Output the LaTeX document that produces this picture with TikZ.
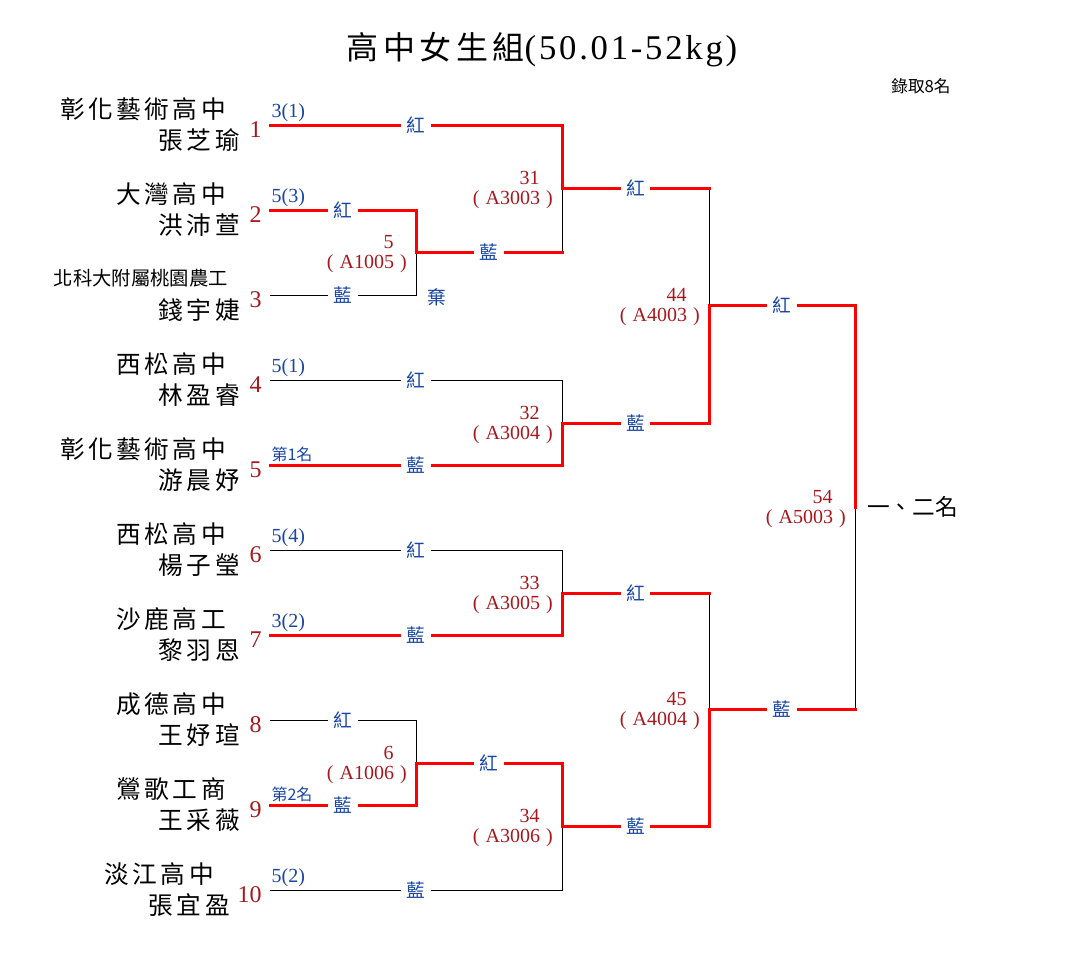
\documentclass[tikz,border=0pt]{standalone}
\usepackage{fontspec}
\setmainfont{Liberation Serif}
\newfontfamily\cjk{Noto Sans CJK TC}
\newfontfamily\cjkwide{Noto Sans CJK TC}[LetterSpace=14]
\newfontfamily\titlenum{Liberation Serif}[LetterSpace=8]
\definecolor{winred}{RGB}{255,0,0}
\definecolor{numred}{RGB}{165,25,30}
\definecolor{tagblue}{RGB}{25,70,165}
\newcommand{\paren}[1]{(\hspace{0.3em}#1\hspace{0.3em})}
\newcommand{\boutlabel}[2]{#1\hspace*{0.65em}\\\paren{#2}}
\tikzset{
  win/.style={draw=winred, line width=2.25pt, line cap=rect},
  lose/.style={draw=black, line width=0.75pt},
  corner/.style={fill=white, text=tagblue, inner xsep=4pt, inner ysep=0pt,
    font=\cjk\fontsize{14}{14}\selectfont},
  seed/.style={anchor=south west, inner sep=0pt, xshift=1pt, yshift=2pt,
    text=tagblue, font=\fontsize{15}{15}\selectfont},
  entry/.style={anchor=base east, inner sep=0pt, xshift=-6pt, yshift=-9.5pt,
    text=numred, font=\fontsize{18}{18}\selectfont},
  school/.style={anchor=east, inner sep=0pt, font=\cjkwide\fontsize{18.5}{18.5}\selectfont},
  player/.style={anchor=east, inner sep=0pt, font=\cjkwide\fontsize{18.5}{18.5}\selectfont},
  bout/.style={anchor=east, align=right, inner sep=0pt, xshift=-6.75pt, yshift=-1.5pt,
    text=numred, font=\fontsize{15}{15}\selectfont}
}
\begin{document}
\begin{tikzpicture}[x=0.75pt, y=-0.75pt]
  \useasboundingbox (0,0) rectangle (1085,975);
  \node (title) at (542,50) {{\cjkwide\fontsize{24}{24}\selectfont 高中女生組}{\titlenum\fontsize{26}{26}\selectfont(50.01-52kg)}};
  \node[font=\cjk\fontsize{12.5}{12.5}\selectfont] (quota) at (921,86) {錄取8名};

  % entry points
  \coordinate (e1) at (270,125);
  \coordinate (e2) at (270,210);
  \coordinate (e3) at (270,295);
  \coordinate (e4) at (270,380);
  \coordinate (e5) at (270,465);
  \coordinate (e6) at (270,550);
  \coordinate (e7) at (270,635);
  \coordinate (e8) at (270,720);
  \coordinate (e9) at (270,805);
  \coordinate (e10) at (270,890);
  % bracket joints
  \coordinate (a5) at (416,252);
  \coordinate (a6) at (416,763);
  \coordinate (b31) at (562,188);
  \coordinate (b32) at (562,423);
  \coordinate (b33) at (562,593);
  \coordinate (b34) at (562,826);
  \coordinate (c44) at (709,305);
  \coordinate (c45) at (709,709);
  \coordinate (d54) at (855,507);

  % schools and players
  \node[school] (s1) at (226,109) {彰化藝術高中};
  \node[player] (p1) at (240,140) {張芝瑜};
  \node[school] (s2) at (226,194) {大灣高中};
  \node[player] (p2) at (240,225) {洪沛萱};
  \node[school, font=\cjk\fontsize{14.5}{14.5}\selectfont] (s3) at (228,278) {北科大附屬桃園農工};
  \node[player] (p3) at (240,310) {錢宇婕};
  \node[school] (s4) at (226,364) {西松高中};
  \node[player] (p4) at (240,395) {林盈睿};
  \node[school] (s5) at (226,449) {彰化藝術高中};
  \node[player] (p5) at (240,480) {游晨妤};
  \node[school] (s6) at (226,534) {西松高中};
  \node[player] (p6) at (240,565) {楊子瑩};
  \node[school] (s7) at (226,619) {沙鹿高工};
  \node[player] (p7) at (240,650) {黎羽恩};
  \node[school] (s8) at (226,704) {成德高中};
  \node[player] (p8) at (240,735) {王妤瑄};
  \node[school] (s9) at (226,789) {鶯歌工商};
  \node[player] (p9) at (240,820) {王采薇};
  \node[school] (s10) at (214,874) {淡江高中};
  \node[player] (p10) at (230,905) {張宜盈};

  % draw numbers and seeds
  \node[entry] (n1) at (e1) {1};
  \node[entry] (n2) at (e2) {2};
  \node[entry] (n3) at (e3) {3};
  \node[entry] (n4) at (e4) {4};
  \node[entry] (n5) at (e5) {5};
  \node[entry] (n6) at (e6) {6};
  \node[entry] (n7) at (e7) {7};
  \node[entry] (n8) at (e8) {8};
  \node[entry] (n9) at (e9) {9};
  \node[entry] (n10) at (e10) {10};
  \node[seed] (r1) at (e1) {3(1)};
  \node[seed] (r2) at (e2) {5(3)};
  \node[seed] (r4) at (e4) {5(1)};
  \node[seed, font=\cjk\fontsize{12}{12}\selectfont] (r5) at (e5) {第1名};
  \node[seed] (r6) at (e6) {5(4)};
  \node[seed] (r7) at (e7) {3(2)};
  \node[seed, font=\cjk\fontsize{12}{12}\selectfont] (r9) at (e9) {第2名};
  \node[seed] (r10) at (e10) {5(2)};

  % losing lines
  \draw[lose] (e3) -- node[corner]{藍} (e3 -| a5) -- (a5);
  \draw[lose] (e8) -- node[corner]{紅} (e8 -| a6) -- (a6);
  \draw[lose] (e4) -- node[corner]{紅} (e4 -| b32) -- (b32);
  \draw[lose] (e6) -- node[corner]{紅} (e6 -| b33) -- (b33);
  \draw[lose] (e10) -- node[corner]{藍} (e10 -| b34) -- (b34);
  \draw[lose] (a5 -| b31) -- (b31);
  \draw[lose] (b31 -| c44) -- (c44);
  \draw[lose] (b33 -| c45) -- (c45);
  \draw[lose] (c45 -| d54) -- (d54);

  % winning lines
  \draw[win] (e2) -- node[corner]{紅} (e2 -| a5) -- (a5);
  \draw[win] (e9) -- node[corner]{藍} (e9 -| a6) -- (a6);
  \draw[win] (e1) -- node[corner]{紅} (e1 -| b31) -- (b31);
  \draw[win] (a5) -- node[corner]{藍} (a5 -| b31);
  \draw[win] (e5) -- node[corner]{藍} (e5 -| b32) -- (b32);
  \draw[win] (e7) -- node[corner]{藍} (e7 -| b33) -- (b33);
  \draw[win] (a6) -- node[corner]{紅} (a6 -| b34) -- (b34);
  \draw[win] (b31) -- node[corner]{紅} (b31 -| c44);
  \draw[win] (b32) -- node[corner]{藍} (b32 -| c44) -- (c44);
  \draw[win] (b33) -- node[corner]{紅} (b33 -| c45);
  \draw[win] (b34) -- node[corner]{藍} (b34 -| c45) -- (c45);
  \draw[win] (c44) -- node[corner]{紅} (c44 -| d54) -- (d54);
  \draw[win] (c45) -- node[corner]{藍} (c45 -| d54);

  % bout numbers
  \node[bout] (m5) at (a5) {\boutlabel{5}{A1005}};
  \node[bout] (m6) at (a6) {\boutlabel{6}{A1006}};
  \node[bout] (m31) at (b31) {\boutlabel{31}{A3003}};
  \node[bout] (m32) at (b32) {\boutlabel{32}{A3004}};
  \node[bout] (m33) at (b33) {\boutlabel{33}{A3005}};
  \node[bout] (m34) at (b34) {\boutlabel{34}{A3006}};
  \node[bout] (m44) at (c44) {\boutlabel{44}{A4003}};
  \node[bout] (m45) at (c45) {\boutlabel{45}{A4004}};
  \node[bout] (m54) at (d54) {\boutlabel{54}{A5003}};
  \node[corner, fill=none] (quit) at (437,297) {棄};
  \node[anchor=west, inner sep=0pt, font=\cjk\fontsize{17}{17}\selectfont] (final) at (867,507) {一、二名};
\end{tikzpicture}
\end{document}
